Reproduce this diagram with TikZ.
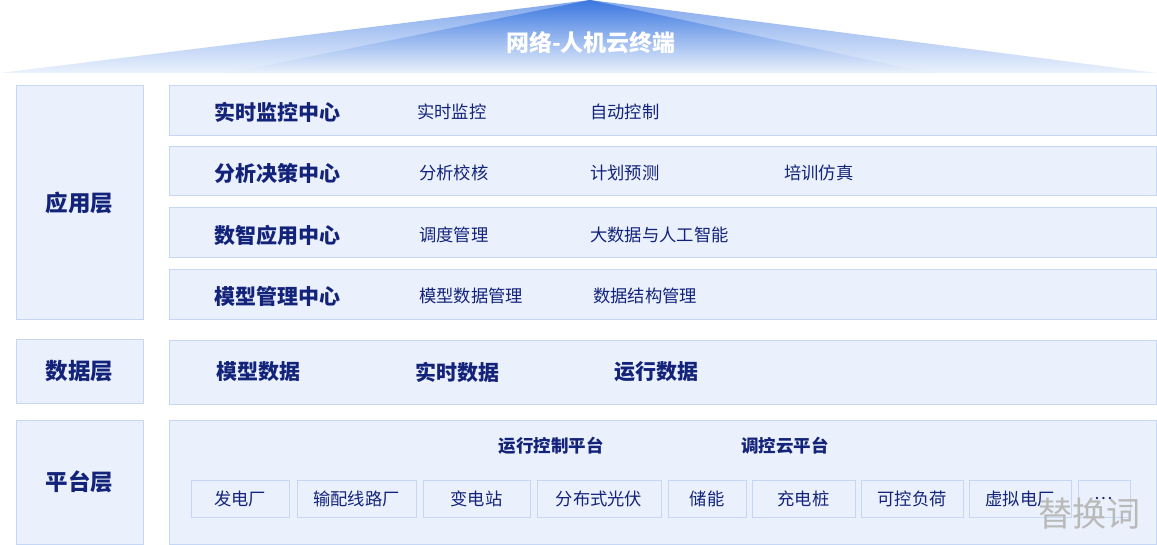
\documentclass[tikz,border=0pt]{standalone}
\usepackage{fontspec}
\setmainfont{Noto Sans CJK SC}
\definecolor{boxfill}{HTML}{EAF1FD}
\definecolor{boxline}{HTML}{C6D7F6}
\definecolor{ink}{HTML}{14237A}
\definecolor{roofdark}{HTML}{3A77E0}
\definecolor{roofmid}{HTML}{7FA6EC}
\definecolor{rooflight}{HTML}{EAF1FC}

\begin{document}
\begin{tikzpicture}[x=1pt,y=-1pt,
  panel/.style={draw=boxline,fill=boxfill,line width=1pt,inner sep=0pt},
  layer/.style={panel,text=ink,font=\fontsize{22.5}{22.5}\selectfont\bfseries},
  head/.style={text=ink,font=\fontsize{21}{21}\selectfont\bfseries,anchor=west,inner sep=0pt},
  item/.style={text=ink,font=\fontsize{17.3}{17.3}\selectfont,anchor=west,inner sep=0pt},
  plathead/.style={text=ink,font=\fontsize{17.5}{17.5}\selectfont\bfseries,inner sep=0pt},
  unit/.style={panel,text=ink,font=\fontsize{17.3}{17.3}\selectfont,minimum height=37pt}]
\useasboundingbox (0,0) rectangle (1157,545);
\shade[top color=roofmid,bottom color=rooflight] (0,73) -- (590,0) -- (1157,73) -- cycle;
\shade[top color=roofdark,bottom color=rooflight] (229,73) -- (590,0) -- (930,73) -- cycle;
\node[text=white,font=\fontsize{23}{23}\selectfont\bfseries] (roof) at (591,43) {网络-人机云终端};
\node[layer,minimum width=127pt,minimum height=234pt] (app) at (79.5,203) {应用层};
\node[layer,minimum width=127pt,minimum height=63pt] (dat) at (79.5,371.5) {数据层};
\node[layer,minimum width=127pt,minimum height=124pt] (plat) at (79.5,482) {平台层};
\node[panel,minimum width=987pt,minimum height=50pt] (r1) at (662.5,111) {};
\node[panel,minimum width=987pt,minimum height=49pt] (r2) at (662.5,171.5) {};
\node[panel,minimum width=987pt,minimum height=50pt] (r3) at (662.5,233) {};
\node[panel,minimum width=987pt,minimum height=50pt] (r4) at (662.5,295) {};
\node[panel,minimum width=987pt,minimum height=63pt] (rdat) at (662.5,372.5) {};
\node[panel,minimum width=987pt,minimum height=124pt] (rplat) at (662.5,482) {};
\node[head] (h1) at (214,112) {实时监控中心};
\node[item] (i11) at (417,112) {实时监控};
\node[item] (i12) at (590,112) {自动控制};
\node[head] (h2) at (214,173) {分析决策中心};
\node[item] (i21) at (419,173) {分析校核};
\node[item] (i22) at (590,173) {计划预测};
\node[item] (i23) at (784,173) {培训仿真};
\node[head] (h3) at (214,235) {数智应用中心};
\node[item] (i31) at (419,235) {调度管理};
\node[item] (i32) at (590,235) {大数据与人工智能};
\node[head] (h4) at (214,296) {模型管理中心};
\node[item] (i41) at (419,296) {模型数据管理};
\node[item] (i42) at (593,296) {数据结构管理};
\node[head] (d1) at (216,372) {模型数据};
\node[head] (d2) at (415,372) {实时数据};
\node[head] (d3) at (614,372) {运行数据};
\node[plathead] (p1) at (551,446) {运行控制平台};
\node[plathead] (p2) at (785,446) {调控云平台};
\node[unit,minimum width=98pt] (u1) at (240,498.5) {发电厂};
\node[unit,minimum width=119pt] (u2) at (356.5,498.5) {输配线路厂};
\node[unit,minimum width=107pt] (u3) at (476.5,498.5) {变电站};
\node[unit,minimum width=124pt] (u4) at (599,498.5) {分布式光伏};
\node[unit,minimum width=78pt] (u5) at (707,498.5) {储能};
\node[unit,minimum width=103pt] (u6) at (803.5,498.5) {充电桩};
\node[unit,minimum width=102pt] (u7) at (912,498.5) {可控负荷};
\node[unit,minimum width=102pt] (u8) at (1020,498.5) {虚拟电厂};
\node[unit,minimum width=52pt] (u9) at (1104,498.5) {…};
\node[text=gray!55,font=\fontsize{34}{34}\selectfont] (mark) at (1089,514) {替换词};
\end{tikzpicture}
\end{document}
